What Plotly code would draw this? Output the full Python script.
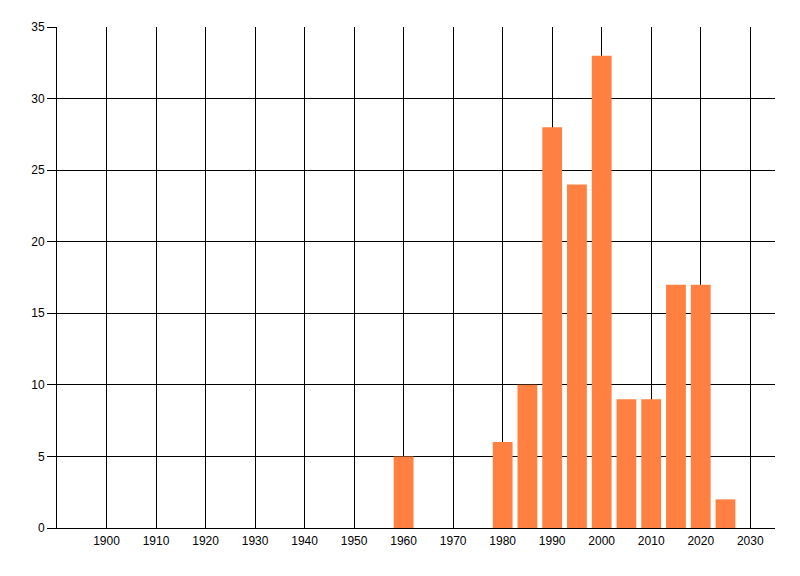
import plotly.graph_objects as go

years = [1960, 1980, 1985, 1990, 1995, 2000, 2005, 2010, 2015, 2020, 2025]
counts = [5, 6, 10, 28, 24, 33, 9, 9, 17, 17, 2]
x_ticks = list(range(1900, 2031, 10))
y_ticks = [0, 5, 10, 15, 20, 25, 30, 35]

fig = go.Figure(
    go.Bar(
        x=years,
        y=counts,
        width=4,
        marker=dict(color="rgb(255,128,64)", line=dict(width=0)),
    )
)

# page has an 8px body margin, so margins are shifted to match the reference
fig.update_layout(
    width=800,
    height=576,
    margin=dict(l=49, r=33, t=19, b=56),
    paper_bgcolor="white",
    plot_bgcolor="white",
    showlegend=False,
    font=dict(family="Liberation Sans, Arial, sans-serif", size=12, color="black"),
)
fig.update_xaxes(
    range=[1890, 2035],
    tickvals=x_ticks,
    showgrid=True,
    gridcolor="black",
    gridwidth=1,
    showline=True,
    linecolor="black",
    linewidth=1,
    zeroline=False,
    ticks="",
    ticklabelstandoff=2,
    automargin=False,
)
fig.update_yaxes(
    range=[0, 35],
    tickvals=y_ticks,
    showgrid=True,
    gridcolor="black",
    gridwidth=1,
    showline=True,
    linecolor="black",
    linewidth=1,
    zeroline=False,
    ticks="outside",
    ticklen=9,
    tickcolor="black",
    automargin=False,
)

fig.write_html("out.html")
